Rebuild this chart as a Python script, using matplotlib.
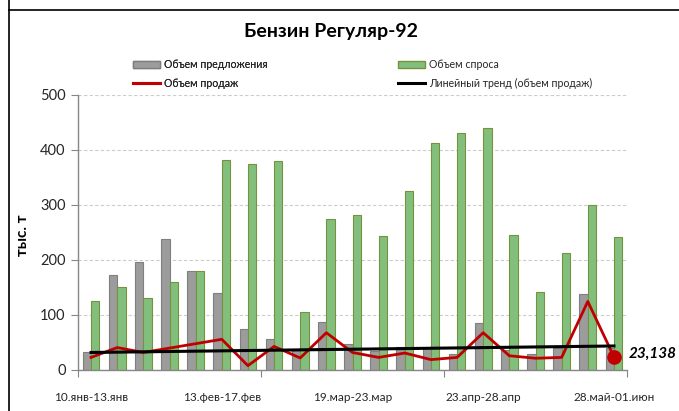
import numpy as np
import matplotlib
matplotlib.use("Agg")
import matplotlib.pyplot as plt
from matplotlib.lines import Line2D
from matplotlib.patches import Patch

plt.rcParams['font.family'] = ['Lato', 'DejaVu Sans']

# weekly data, 21 periods
supply = [32, 173, 195, 238, 180, 139, 73, 56, 35, 86, 47, 33, 41, 39, 29, 85, 35, 28, 39, 137, 40]
demand = [124, 151, 131, 160, 180, 382, 374, 380, 105, 275, 282, 243, 326, 412, 431, 440, 245, 142, 213, 299, 241]
sales = [22, 40, 31, 39, 47, 55, 7, 42, 21, 67, 31, 22, 30, 18, 22, 67, 25, 20.5, 22, 124, 23.138]

label_idx = [0, 5, 10, 15, 20]
label_txt = ['10.янв-13.янв', '13.фев-17.фев', '19.мар-23.мар', '23.апр-28.апр', '28.май-01.июн']

title = 'Бензин Регуляр-92'
ylabel = 'тыс. т'
last_label = '23,138'

GRAY = '#9c9c9c'
GRAY_EDGE = '#7f7f7f'
GREEN = '#82bf7c'
GREEN_EDGE = '#76923c'
RED = '#c00000'
TXT = '#262626'

fig = plt.figure(figsize=(6.79, 4.11), dpi=100)
ax = fig.add_axes([78 / 679, 1 - 369.5 / 411, 549 / 679, 274.5 / 411])

x = np.arange(len(supply))
w = 0.32
ax.bar(x - w / 2, supply, width=w, color=GRAY, edgecolor=GRAY_EDGE, linewidth=0.8, zorder=2)
ax.bar(x + w / 2, demand, width=w, color=GREEN, edgecolor=GREEN_EDGE, linewidth=0.8, zorder=2)
ax.plot(x, sales, color=RED, linewidth=2.0, zorder=3)
ax.plot(x[-1], sales[-1], 'o', color=RED, markersize=9.5, zorder=4)

# linear trend of sales
k, b = np.polyfit(x, sales, 1)
ax.plot([x[0], x[-1]], [k * x[0] + b, k * x[-1] + b], color='black', linewidth=2.2, zorder=4)

ax.text(x[-1] + 0.55, sales[-1] + 6, last_label, fontsize=11, fontweight='bold',
        fontstyle='italic', va='center', ha='left', clip_on=False)

ax.set_xlim(-0.5, len(supply) - 0.5)
ax.set_ylim(0, 500)
ax.set_yticks(range(0, 501, 100))
ax.yaxis.grid(True, linestyle=(0, (3, 2)), color='#cccccc', linewidth=0.8, zorder=0)
ax.tick_params(axis='y', labelsize=10.5, length=5, color='#868686', labelcolor=TXT, pad=4)

ax.set_xticks([-0.5, 6.5, 13.5, 20.5])
ax.set_xticklabels([])
ax.tick_params(axis='x', which='major', length=5, color='#868686')
ax.set_xticks(label_idx, minor=True)
ax.set_xticklabels(label_txt, minor=True)
ax.tick_params(axis='x', which='minor', length=0, labelsize=8.5, labelcolor=TXT, pad=16)

for s in ['top', 'right']:
    ax.spines[s].set_visible(False)
for s in ['left', 'bottom']:
    ax.spines[s].set_color('#868686')
    ax.spines[s].set_linewidth(1)

fig.text(23 / 679, 1 - 235 / 411, ylabel, fontsize=11, fontweight='bold', rotation=90,
         ha='center', va='center')

fig.text(331 / 679, 1 - 32 / 411, title, fontsize=14, fontweight='bold', ha='center', va='center')

# legend: two columns, two rows each
leg_kw = dict(frameon=False, loc='center left', prop={'size': 7.6, 'weight': 'normal'},
              handlelength=2.6, handleheight=0.6, handletextpad=0.35, borderpad=0,
              borderaxespad=0, labelspacing=0.75, labelcolor=TXT)
leg1 = fig.legend(handles=[Patch(facecolor=GRAY, edgecolor=GRAY_EDGE), Line2D([], [], color=RED, linewidth=2.2)],
                  labels=['Объем предложения', 'Объем продаж'],
                  bbox_to_anchor=(133 / 679, 1 - 74 / 411), **leg_kw)
leg2 = fig.legend(handles=[Patch(facecolor=GREEN, edgecolor=GREEN_EDGE), Line2D([], [], color='black', linewidth=2.2)],
                  labels=['Объем спроса', 'Линейный тренд (объем продаж)'],
                  bbox_to_anchor=(398 / 679, 1 - 74 / 411), **leg_kw)
fig.add_artist(leg1)

# outer frame lines
fig.add_artist(Line2D([9 / 679, 9 / 679], [0, 1], color='black', linewidth=1.2))
fig.add_artist(Line2D([9 / 679, 1], [1 - 10 / 411, 1 - 10 / 411], color='black', linewidth=1.2))

fig.savefig('out.png', dpi=100)
